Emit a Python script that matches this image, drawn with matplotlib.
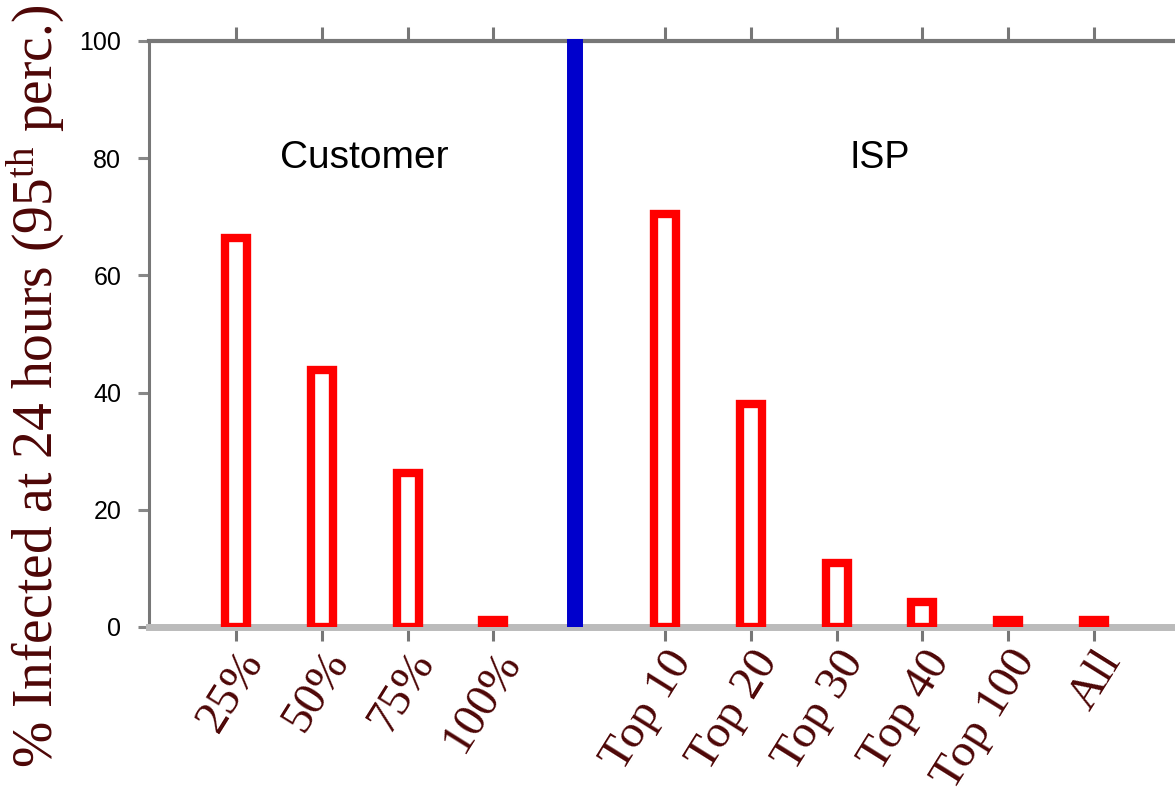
import matplotlib
matplotlib.use('Agg')
import matplotlib.pyplot as plt
import matplotlib.transforms as mtrans
import numpy as np

# data
customer_labels = ['25%', '50%', '75%', '100%']
customer_vals = [66.4, 43.8, 26.3, 1.2]
isp_labels = ['Top 10', 'Top 20', 'Top 30', 'Top 40', 'Top 100', 'All']
isp_vals = [70.5, 38, 11, 4.2, 1.2, 1.2]

plt.rcParams['mathtext.fontset'] = 'custom'
plt.rcParams['mathtext.rm'] = 'Liberation Serif'
plt.rcParams['mathtext.it'] = 'Liberation Serif:italic'

label_col = '#4d0606'
red = '#ff0000'

fig = plt.figure(figsize=(11.75, 8.01), dpi=100)
ax = fig.add_axes([149 / 1175, 1 - 627 / 801, 1026 / 1175, 586 / 801])

cust_x = np.arange(len(customer_labels))
isp_x = np.arange(len(isp_labels)) + len(customer_labels) + 1
divider = 3.95

ax.bar(cust_x, customer_vals, 0.255, facecolor='white', edgecolor=red, linewidth=6, zorder=3)
ax.bar(isp_x, isp_vals, 0.255, facecolor='white', edgecolor=red, linewidth=6, zorder=3)
ax.axvline(divider, 0, 1.004, color='#0000cc', linewidth=11.5, solid_capstyle='butt', zorder=6, clip_on=False)

ax.text(1.5, 80, 'Customer', ha='center', va='center', fontsize=28, family='Liberation Sans', color='black')
ax.text(7.5, 80, 'ISP', ha='center', va='center', fontsize=27, family='Liberation Sans', color='black')

ax.set_xlim(-1.014, 10.944)
ax.set_ylim(0, 100)

ax.spines['right'].set_visible(False)
ax.spines['left'].set_color('#777777')
ax.spines['left'].set_linewidth(2.2)
ax.spines['top'].set_color('#777777')
ax.spines['top'].set_linewidth(3)
ax.spines['bottom'].set_color('#bbbbbb')
ax.spines['bottom'].set_linewidth(5)
ax.spines['bottom'].set_zorder(2.6)

ax.set_yticks([0, 20, 40, 60, 80, 100])
ax.tick_params(axis='y', direction='out', length=8, width=2.2, color='#888888', pad=12,
               labelsize=18, labelcolor='black')
for t in ax.get_yticklabels():
    t.set_family('Liberation Sans')

ax.set_xticks(list(cust_x) + list(isp_x))
ax.set_xticklabels(customer_labels + isp_labels)
ax.tick_params(axis='x', direction='out', length=10, width=2.2, color='#777777', top=True,
               pad=4, labelsize=34, labelcolor=label_col)
shift = mtrans.ScaledTranslation(18 / 100, -8 / 100, fig.dpi_scale_trans)
for t in ax.get_xticklabels():
    t.set_family('Liberation Serif')
    t.set_rotation(58)
    t.set_ha('right')
    t.set_va('center')
    t.set_rotation_mode('anchor')
    t.set_transform(t.get_transform() + shift)

ax.set_ylabel('% Infected at 24 hours (95$^{\\mathrm{th}}$ perc.)', fontsize=40,
              family='Liberation Serif', color=label_col, va='center')
ax.yaxis.set_label_coords(-0.111, 0.41)

fig.savefig('out.png', dpi=100)
